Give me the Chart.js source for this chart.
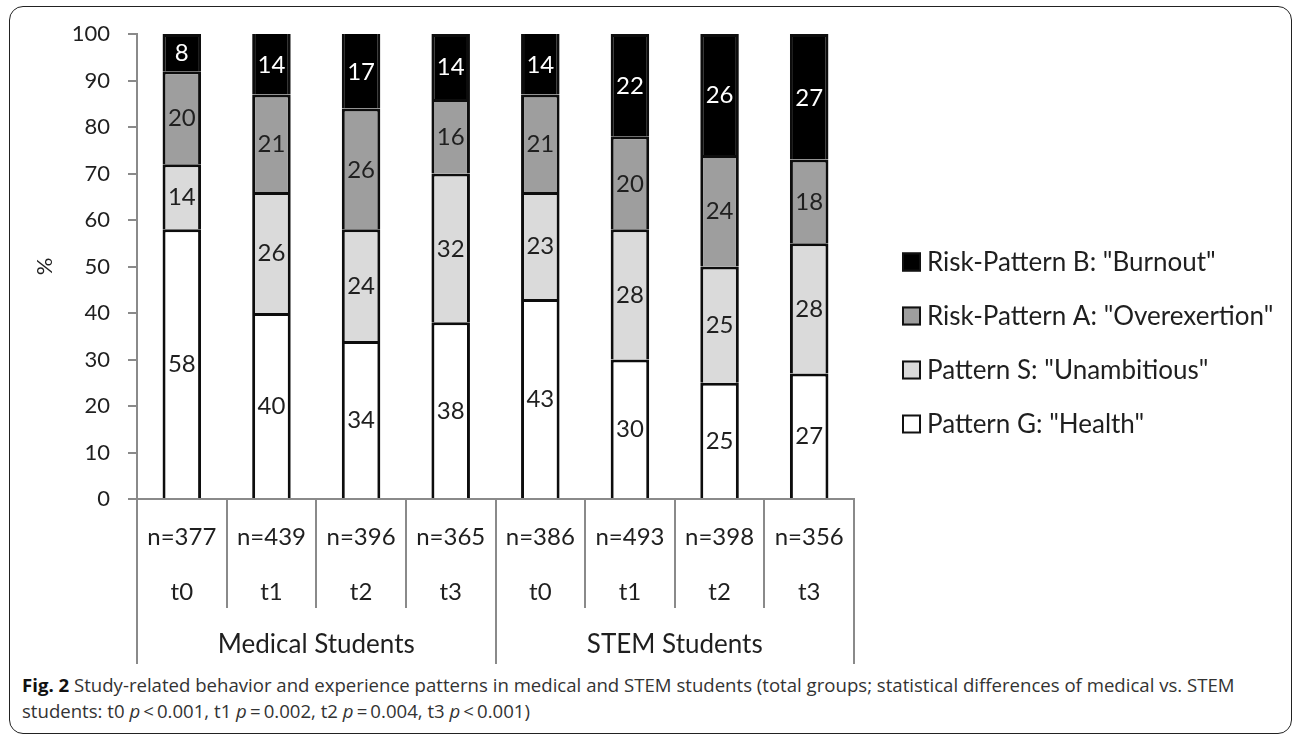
<!DOCTYPE html>
<html>
<head>
<meta charset="utf-8">
<script src="https://cdn.jsdelivr.net/npm/chart.js@4.4.1/dist/chart.umd.min.js"></script>
<style>
  html, body { margin: 0; padding: 0; background: #fff; }
  body { width: 1295px; height: 738px; position: relative; overflow: hidden; }
  .frame {
    position: absolute; left: 9px; top: 6px; width: 1283px; height: 728px;
    box-sizing: border-box; border: 1.5px solid #222; border-radius: 14px;
  }
  #wrap { position: absolute; left: 0; top: 0; width: 1295px; height: 672px; }
  .caption {
    position: absolute; left: 22px; top: 672px; width: 1265px;
    font-family: "Open Sans", sans-serif; font-size: 18.6px; line-height: 26px;
    color: #333; white-space: nowrap;
  }
  .caption b { color: #111; }
</style>
</head>
<body>
<div class="frame"></div>
<div id="wrap"><canvas id="chart" width="1295" height="672"></canvas></div>
<div class="caption"><b>Fig. 2</b> Study-related behavior and experience patterns in medical and STEM students (total groups; statistical differences of medical vs. STEM<br>students: t0 <i>p</i>&thinsp;&lt;&thinsp;0.001, t1 <i>p</i>&thinsp;=&thinsp;0.002, t2 <i>p</i>&thinsp;=&thinsp;0.004, t3 <i>p</i>&thinsp;&lt;&thinsp;0.001)</div>

<script>
// Measurement occasions and cohort sizes
const timepoints  = ['t0', 't1', 't2', 't3', 't0', 't1', 't2', 't3'];
const sampleSizes = ['n=377', 'n=439', 'n=396', 'n=365', 'n=386', 'n=493', 'n=398', 'n=356'];
const cohorts     = ['Medical Students', 'STEM Students'];

// Share of each AVEM pattern (%) per group and occasion
const patternG = [58, 40, 34, 38, 43, 30, 25, 27];
const patternS = [14, 26, 24, 32, 23, 28, 25, 28];
const patternA = [20, 21, 26, 16, 21, 20, 24, 18];
const patternB = [8, 14, 17, 14, 14, 22, 26, 27];

const seriesNames = [
  'Pattern G: "Health"',
  'Pattern S: "Unambitious"',
  'Risk-Pattern A: "Overexertion"',
  'Risk-Pattern B: "Burnout"'
];

const yTicks = [0, 10, 20, 30, 40, 50, 60, 70, 80, 90, 100];

const FONT = 'Lato, "Open Sans", sans-serif';
const TEXT = '#1f1f1f';
const AXIS = '#8a8a8a';

// Value labels centred in each visible segment
const segmentLabels = {
  id: 'segmentLabels',
  afterDatasetsDraw(chart) {
    const ctx = chart.ctx;
    const top = chart.chartArea.top;
    ctx.save();
    ctx.font = '24px ' + FONT;
    ctx.textAlign = 'center';
    ctx.textBaseline = 'middle';
    chart.data.datasets.forEach((ds, di) => {
      const meta = chart.getDatasetMeta(di);
      meta.data.forEach((bar, i) => {
        const p = bar.getProps(['x', 'y', 'base'], true);
        const yTop = Math.max(p.y, top);
        ctx.fillStyle = ds.labelColor;
        ctx.fillText(String(ds.data[i]), p.x, (yTop + p.base) / 2 + 1);
      });
    });
    ctx.restore();
  }
};

// Two-level category axis: sample size / occasion, then cohort
const groupedAxis = {
  id: 'groupedAxis',
  afterDraw(chart) {
    const x = chart.scales.x;
    const ctx = chart.ctx;
    const n = timepoints.length;
    const step = (x.right - x.left) / n;
    const top = x.top;
    const perGroup = n / cohorts.length;
    ctx.save();
    ctx.strokeStyle = AXIS;
    ctx.lineWidth = 2;
    for (let i = 0; i <= n; i++) {
      const px = Math.round(x.left + i * step);
      const isGroupEdge = i % perGroup === 0;
      ctx.beginPath();
      ctx.moveTo(px, top);
      ctx.lineTo(px, top + (isGroupEdge ? 165 : 109));
      ctx.stroke();
    }
    ctx.fillStyle = TEXT;
    ctx.font = '24px ' + FONT;
    ctx.textAlign = 'center';
    ctx.textBaseline = 'middle';
    for (let i = 0; i < n; i++) {
      const cx = x.getPixelForTick(i);
      ctx.fillText(sampleSizes[i], cx, top + 38);
      ctx.fillText(timepoints[i], cx, top + 93);
    }
    ctx.font = '26px ' + FONT;
    cohorts.forEach((c, g) => {
      const cx = x.left + (g + 0.5) * perGroup * step;
      ctx.fillText(c, cx, top + 146);
    });
    ctx.restore();
  }
};

// Legend listed from the top stack segment down
const sideLegend = {
  id: 'sideLegend',
  afterDraw(chart) {
    const ctx = chart.ctx;
    const area = chart.chartArea;
    const boxX = area.right + 48;
    const box = 19;
    const firstY = 262;
    const gap = 54;
    ctx.save();
    ctx.font = '26px ' + FONT;
    ctx.textAlign = 'left';
    ctx.textBaseline = 'middle';
    const order = chart.data.datasets.map((d, i) => i).reverse();
    order.forEach((di, k) => {
      const ds = chart.data.datasets[di];
      const cy = firstY + k * gap;
      ctx.fillStyle = ds.backgroundColor;
      ctx.fillRect(boxX, cy - box / 2, box, box);
      ctx.strokeStyle = '#111';
      ctx.lineWidth = 2;
      ctx.strokeRect(boxX + 1, cy - box / 2 + 1, box - 2, box - 2);
      ctx.fillStyle = TEXT;
      ctx.fillText(ds.label, boxX + box + 6, cy + 1);
    });
    ctx.restore();
  }
};

const fills = ['#ffffff', '#dadada', '#9e9e9e', '#000000'];
const labelColors = [TEXT, TEXT, TEXT, '#ffffff'];
const values = [patternG, patternS, patternA, patternB];

const datasets = values.map((v, i) => ({
  label: seriesNames[i],
  data: v,
  backgroundColor: fills[i],
  borderColor: '#0d0d0d',
  borderWidth: 3,
  borderSkipped: 'start',
  labelColor: labelColors[i],
  barPercentage: 0.86,
  categoryPercentage: 0.5
}));

new Chart(document.getElementById('chart'), {
  type: 'bar',
  data: { labels: timepoints.map((t, i) => sampleSizes[i] + ' ' + t), datasets },
  plugins: [segmentLabels, groupedAxis, sideLegend],
  options: {
    responsive: false,
    animation: false,
    devicePixelRatio: 1,
    layout: { padding: { top: 34, right: 441, bottom: 8, left: 0 } },
    plugins: { legend: { display: false }, tooltip: { enabled: false } },
    scales: {
      x: {
        stacked: true,
        grid: { display: false },
        border: { display: true, color: AXIS, width: 2 },
        ticks: { display: false },
        afterFit(scale) { scale.height = 165; }
      },
      y: {
        stacked: true,
        min: 0,
        max: 100,
        afterBuildTicks(scale) { scale.ticks = yTicks.map(v => ({ value: v })); },
        afterFit(scale) { scale.width = 137; },
        grid: { drawOnChartArea: false, drawTicks: true, tickLength: 9, color: AXIS, lineWidth: 2 },
        border: { display: true, color: AXIS, width: 2 },
        ticks: { color: TEXT, font: { family: FONT, size: 22 }, padding: 18 },
        title: { display: true, text: '%', color: TEXT, font: { family: FONT, size: 22 }, padding: { top: 32 } }
      }
    }
  }
});
</script>
</body>
</html>
